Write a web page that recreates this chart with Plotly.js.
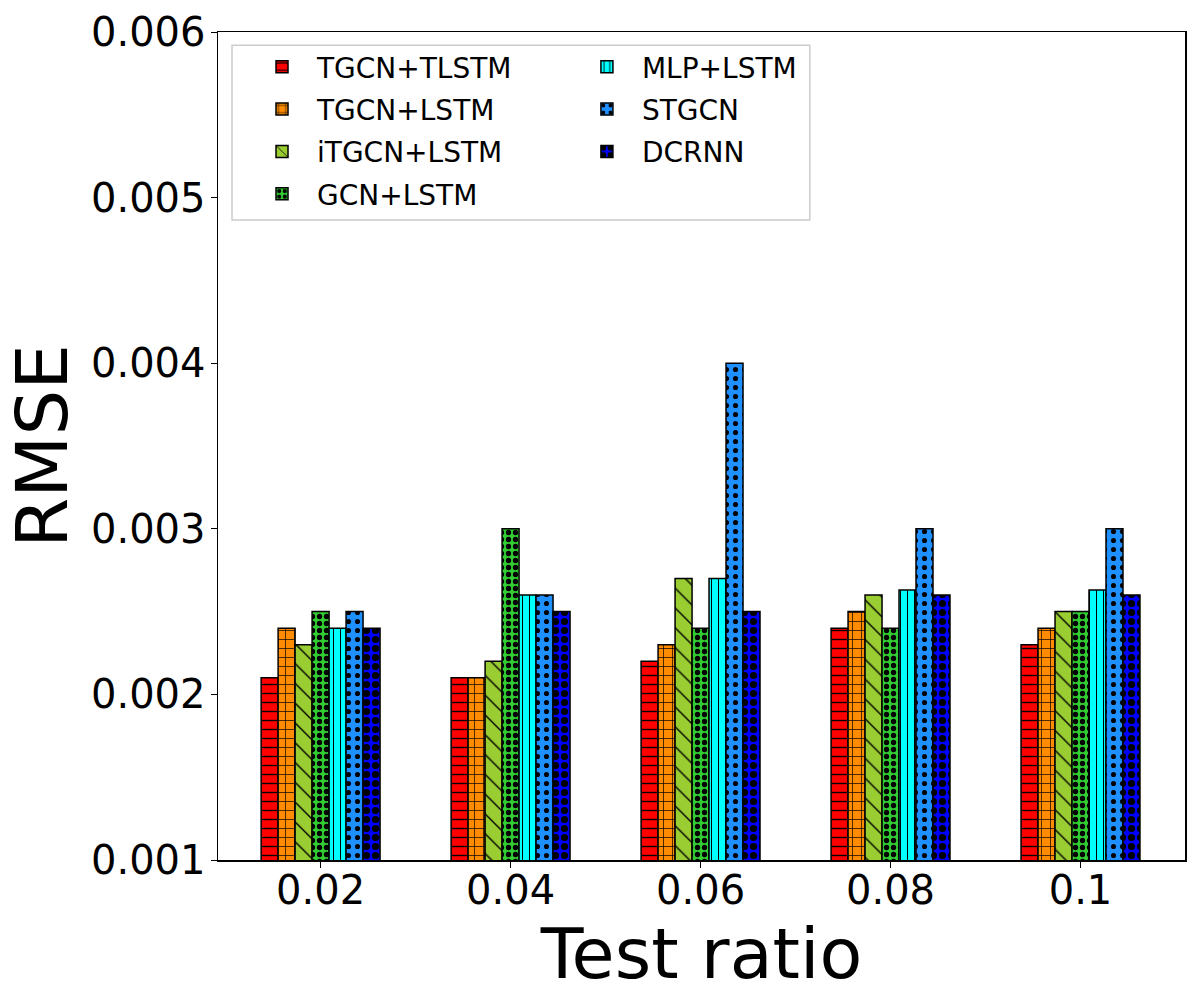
<!DOCTYPE html>
<html>
<head>
<meta charset="utf-8">
<script src="https://cdn.plot.ly/plotly-3.0.1.min.js"></script>
<style>
  body { margin: 0; background: #fff; }
  #graph { width: 1200px; height: 1000px; }
</style>
</head>
<body>
<div id="graph"></div>
<script>
// test ratios on the x axis
var ratios = ['0.02', '0.04', '0.06', '0.08', '0.1'];

// RMSE per model, one value per test ratio
var tgcnTlstm = [0.0021, 0.0021, 0.0022, 0.0024, 0.0023];
var tgcnLstm = [0.0024, 0.0021, 0.0023, 0.0025, 0.0024];
var itgcnLstm = [0.0023, 0.0022, 0.0027, 0.0026, 0.0025];
var gcnLstm = [0.0025, 0.0030, 0.0024, 0.0024, 0.0025];
var mlpLstm = [0.0024, 0.0026, 0.0027, 0.00263, 0.00263];
var stgcn = [0.0025, 0.0026, 0.0040, 0.0030, 0.0030];
var dcrnn = [0.0024, 0.0025, 0.0025, 0.0026, 0.0026];

var models = [
    {name: 'TGCN+TLSTM', y: tgcnTlstm, color: '#ff0000', shape: '-', size: 9, solidity: 0.15, legend: 'legend'},
    {name: 'TGCN+LSTM', y: tgcnLstm, color: '#ff8c00', shape: '+', size: 9, solidity: 0.15, legend: 'legend'},
    {name: 'iTGCN+LSTM', y: itgcnLstm, color: '#9acd32', shape: '\\', size: 14, solidity: 0.1, legend: 'legend'},
    {name: 'GCN+LSTM', y: gcnLstm, color: '#32cd32', shape: '.', size: 7, solidity: 0.45, legend: 'legend'},
    {name: 'MLP+LSTM', y: mlpLstm, color: '#00ffff', shape: '|', size: 7, solidity: 0.15, legend: 'legend2'},
    {name: 'STGCN', y: stgcn, color: '#1e90ff', shape: '.', size: 9, solidity: 0.25, legend: 'legend2'},
    {name: 'DCRNN', y: dcrnn, color: '#0000ff', shape: '.', size: 9, solidity: 0.5, legend: 'legend2'}
];

var data = models.map(function(m) {
    return {
        type: 'bar',
        name: m.name,
        x: ratios,
        y: m.y,
        legend: m.legend,
        legendgroup: m.name,
        marker: {
            color: m.color,
            line: {color: '#000', width: 1.5},
            pattern: {
                shape: m.shape,
                size: m.size,
                solidity: m.solidity,
                fgcolor: '#000',
                bgcolor: m.color,
                fillmode: 'replace'
            }
        }
    };
});

var legendStyle = {
    font: {family: 'DejaVu Sans', size: 28, color: '#000'},
    bgcolor: 'rgba(0,0,0,0)',
    borderwidth: 0,
    itemwidth: 60,
    tracegroupgap: 3,
    yanchor: 'top',
    y: 0.988,
    xanchor: 'left'
};

var layout = {
    width: 1200,
    height: 1000,
    margin: {l: 218, r: 15, t: 32, b: 140},
    paper_bgcolor: '#fff',
    plot_bgcolor: '#fff',
    barmode: 'group',
    bargap: 0.374,
    bargroupgap: 0,
    font: {family: 'DejaVu Sans', color: '#000'},
    showlegend: true,
    legend: Object.assign({}, legendStyle, {x: 0.03}),
    legend2: Object.assign({}, legendStyle, {x: 0.366}),
    shapes: [{
        type: 'rect',
        xref: 'paper', yref: 'paper',
        x0: 0.0145, x1: 0.612, y0: 0.773, y1: 0.984,
        line: {color: '#cccccc', width: 1.5},
        fillcolor: 'rgba(255,255,255,0.8)',
        layer: 'below'
    }],
    xaxis: {
        type: 'category',
        range: [-0.54, 4.55],
        showline: true, mirror: true, linecolor: '#000', linewidth: 1.5,
        ticks: 'outside', ticklen: 6, tickcolor: '#000',
        ticklabelstandoff: -12,
        tickfont: {size: 40},
        showgrid: false,
        title: {text: 'Test ratio', font: {size: 70}, standoff: 0}
    },
    yaxis: {
        range: [0.001, 0.006],
        dtick: 0.001,
        tickformat: '.3f',
        showline: true, mirror: true, linecolor: '#000', linewidth: 1.5,
        ticks: 'outside', ticklen: 6, tickcolor: '#000',
        ticklabelstandoff: -3,
        tickfont: {size: 40},
        showgrid: false,
        zeroline: false,
        title: {text: 'RMSE', font: {size: 72}, standoff: 0}
    }
};

Plotly.newPlot('graph', data, layout, {staticPlot: true});
</script>
</body>
</html>
